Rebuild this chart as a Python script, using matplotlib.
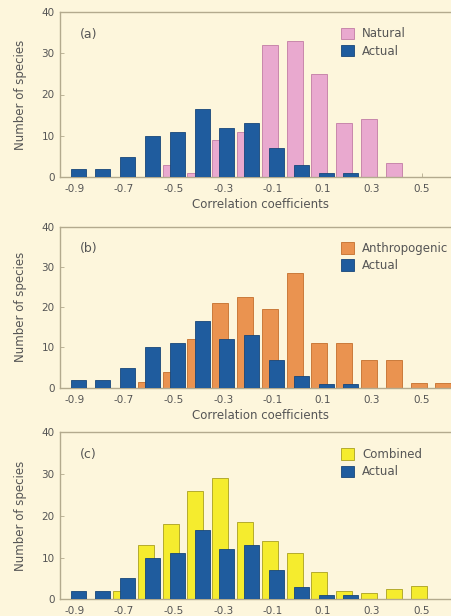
import numpy as np
import matplotlib
matplotlib.use("Agg")
import matplotlib.pyplot as plt

# bin centres (width 0.1)
bins = [-0.9, -0.8, -0.7, -0.6, -0.5, -0.4, -0.3, -0.2, -0.1, 0.0, 0.1, 0.2, 0.3, 0.4, 0.5, 0.6]

actual = [2, 2, 5, 10, 11, 16.5, 12, 13, 7, 3, 1, 1, 0, 0, 0, 0]
natural = [0, 0, 0, 0, 3, 1, 9, 11, 32, 33, 25, 13, 14, 3.5, 0, 0]
anthropogenic = [0, 0, 0, 1.5, 4, 12, 21, 22.5, 19.5, 28.5, 11, 11, 7, 7, 1.2, 1.2]
combined = [0, 0, 2, 13, 18, 26, 29, 18.5, 14, 11, 6.5, 2, 1.5, 2.5, 3.2, 0]

tick_vals = [-0.9, -0.7, -0.5, -0.3, -0.1, 0.1, 0.3, 0.5]
tick_labels = ["-0.9", "-0.7", "-0.5", "-0.3", "-0.1", "0.1", "0.3", "0.5"]

panels = [
    ("(a)", "Natural", natural, "#e9a9cf", "#c27ca4"),
    ("(b)", "Anthropogenic", anthropogenic, "#ea9350", "#c46f2c"),
    ("(c)", "Combined", combined, "#f5ec2e", "#aaa020"),
]

BG = "#fdf6dc"
SPINE = "#b3aa8e"
TXT = "#555555"
BLUE = "#1f5c9e"
BLUE_EDGE = "#17467a"

W, H = 452, 616
fig = plt.figure(figsize=(W / 100, H / 100), dpi=100, facecolor=BG)

# axes boxes in pixels: (top, bottom)
boxes = [(11.7, 177.3), (226.7, 387.7), (432.3, 599.3)]
left_px = 59.5
xmin, xmax = -0.96, 0.66
px_per_unit = 248.0
width_px = (xmax - xmin) * px_per_unit

x = np.array(bins)
for (label, name, vals, col, edge), (top, bot) in zip(panels, boxes):
    ax = fig.add_axes([left_px / W, 1 - bot / H, width_px / W, (bot - top) / H])
    ax.set_facecolor(BG)
    ax.bar(x - 0.012, vals, width=0.065, color=col, edgecolor=edge,
           linewidth=0.6, label=name, zorder=2)
    ax.bar(x + 0.015, actual, width=0.06, color=BLUE, edgecolor=BLUE_EDGE,
           linewidth=0.6, label="Actual", zorder=3)

    ax.set_xlim(xmin, xmax)
    ax.set_ylim(0, 40)
    ax.set_yticks([0, 10, 20, 30, 40])
    ax.set_xticks(tick_vals)
    ax.set_xticklabels(tick_labels)
    ax.tick_params(direction="in", length=3, width=0.6, color=SPINE,
                   labelsize=7.5, labelcolor=TXT, pad=3.5)
    ax.tick_params(axis="x", pad=5)
    for s in ax.spines.values():
        s.set_color(SPINE)
        s.set_linewidth(1.0)

    ax.set_ylabel("Number of species", fontsize=8.5, color=TXT)
    ax.yaxis.set_label_coords(-0.08, 0.5)
    if label != "(c)":
        ax.set_xlabel("Correlation coefficients", fontsize=8.5, color=TXT, labelpad=3)

    ax.text(0.05, 0.865, label, transform=ax.transAxes, fontsize=9,
            color=TXT, va="center", ha="left")
    ax.legend(loc="upper left", bbox_to_anchor=(0.70, 0.905), frameon=False,
              fontsize=8.5, labelcolor=TXT, handlelength=1.1, handleheight=1.1,
              handletextpad=0.7, labelspacing=0.35, borderpad=0,
              borderaxespad=0)

fig.savefig("out.png", dpi=100, facecolor=BG)
